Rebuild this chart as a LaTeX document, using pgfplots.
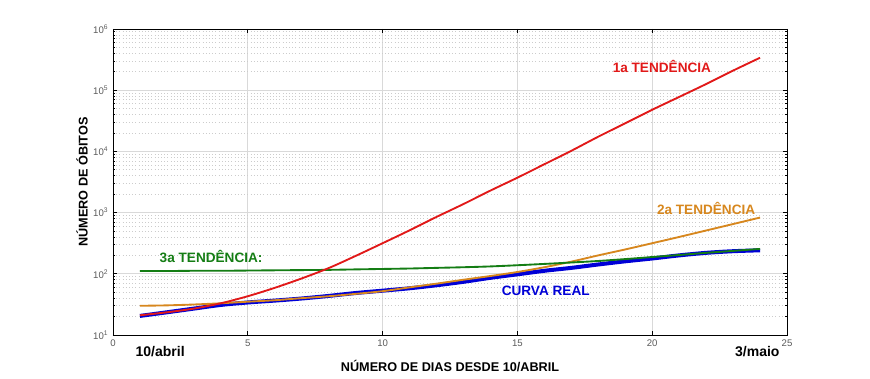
\documentclass[border=0pt]{standalone}
\usepackage{pgfplots}
\pgfplotsset{compat=1.18}
\usepackage{fontspec}
\setmainfont{Liberation Sans}
\definecolor{cred}{RGB}{225,25,25}
\definecolor{corange}{RGB}{215,135,30}
\definecolor{cgreen}{RGB}{20,125,20}
\definecolor{cblue}{RGB}{0,0,215}
\definecolor{tickgray}{RGB}{90,90,90}
\pgfplotstableread{
x y
1 20.5
2 23.5
3 27
4 31
5 34
6 36.5
7 39.5
8 43.5
9 48.5
10 53
11 58
12 65
13 74
14 86
15 98
16 112
17 125
18 142
19 160
20 178
21 200
22 220
23 234
24 242
}\real
\pgfplotstableread{
x y
1 21
2 23.5
3 27
4 33
5 43
6 59
7 84
8 124
9 196
10 316
11 513
12 850
13 1380
14 2290
15 3720
16 6170
17 10230
18 17400
19 28800
20 47900
21 77600
22 126000
23 209000
24 339000
}\first
\pgfplotstableread{
x y
1 30
2 30.5
3 31.5
4 33
5 35
6 37
7 40
8 43
9 47
10 52
11 60
12 69
13 80
14 92
15 107
16 128
17 158
18 200
19 250
20 316
21 400
22 510
23 650
24 830
}\second
\pgfplotstableread{
x y
1 111
2 111
3 112
4 112
5 113
6 114
7 115
8 116
9 118
10 120
11 122
12 125
13 128
14 132
15 138
16 145
17 153
18 162
19 174
20 188
21 203
22 220
23 237
24 255
}\third
\begin{document}
\begin{tikzpicture}
\useasboundingbox (-84.75pt,-32.25pt) rectangle (567.75pt,251.25pt);
\begin{axis}[
  scale only axis,
  width=505.5pt, height=229.5pt,
  ymode=log,
  xmin=0, xmax=25, ymin=10, ymax=1e6,
  xtick={0,5,10,15,20,25},
  ytick={10,100,1000,10000,100000,1000000},
  yticklabels={10\textsuperscript{1},10\textsuperscript{2},10\textsuperscript{3},10\textsuperscript{4},10\textsuperscript{5},10\textsuperscript{6}},
  /pgf/number format/assume math mode=true,
  tick label style={font=\fontsize{7.2}{8}\selectfont, text=tickgray},
  tick align=inside,
  tick pos=both,
  major tick length=3pt,
  minor tick length=1.8pt,
  axis line style={black, line width=0.7pt},
  every tick/.style={black, line width=0.5pt},
  grid=both,
  major grid style={gray!30, line width=0.5pt},
  minor grid style={gray!40, dotted, line width=0.5pt},
  minor x tick num=0,
  xminorgrids=false,
  xlabel={\bfseries NÚMERO DE DIAS DESDE 10/ABRIL},
  ylabel={\bfseries NÚMERO DE ÓBITOS},
  xlabel style={font=\fontsize{9.5}{11}\selectfont, at={(axis description cs:0.5,-0.1024)}, anchor=center},
  ylabel style={font=\fontsize{9.5}{11}\selectfont, at={(axis description cs:-0.046,0.5)}, anchor=center},
  clip=false,
  every axis plot/.append style={line join=round},
]
\addplot[cblue, line width=3pt, smooth] table[x=x,y=y] {\real};
\addplot[corange, line width=1.4pt, smooth] table[x=x,y=y] {\second};
\addplot[cgreen, line width=1.4pt, smooth] table[x=x,y=y] {\third};
\addplot[cred, line width=1.4pt, smooth] table[x=x,y=y] {\first};
\node[text=cred, font=\fontsize{10.2}{12}\selectfont\bfseries] at (axis cs:20.36,2.4e5) {1a TENDÊNCIA};
\node[text=corange, font=\fontsize{10.2}{12}\selectfont\bfseries] at (axis cs:22.0,1190) {2a TENDÊNCIA};
\node[text=cgreen, font=\fontsize{10.2}{12}\selectfont\bfseries] at (axis cs:3.64,195) {3a TENDÊNCIA:};
\node[text=cblue, font=\fontsize{10.2}{12}\selectfont\bfseries] at (axis cs:16.05,52) {CURVA REAL};
\node[text=black, font=\fontsize{10.5}{12}\selectfont\bfseries] at (axis cs:1.75,10) [yshift=-12.75pt] {10/abril};
\node[text=black, font=\fontsize{10.5}{12}\selectfont\bfseries] at (axis cs:23.9,10) [yshift=-12.75pt] {3/maio};
\end{axis}
\end{tikzpicture}
\end{document}
